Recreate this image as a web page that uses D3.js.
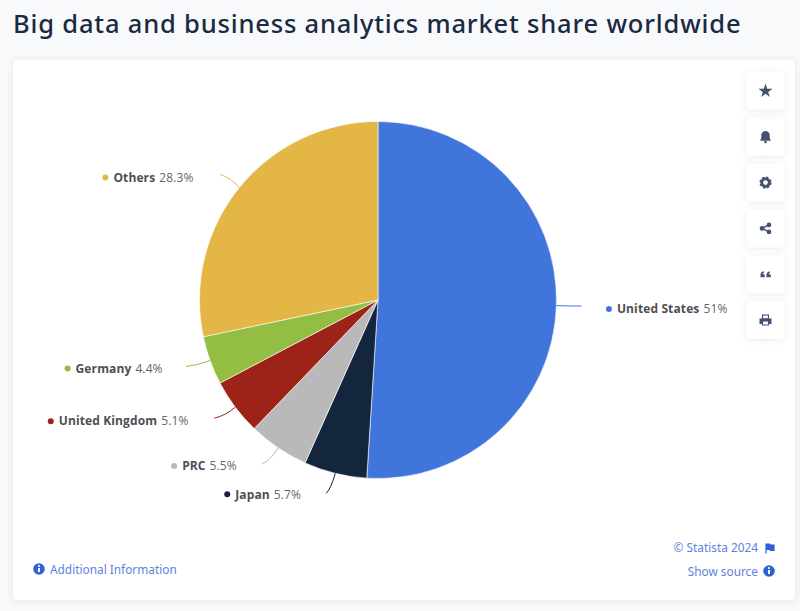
<!DOCTYPE html>
<html>

<head>
	<meta charset="utf-8">
	<script src="https://d3js.org/d3.v7.min.js"></script>
	<title>Big data and business analytics market share worldwide</title>
	<style>
		html,
		body {
			margin: 0;
			width: 100%;
			height: 100%;
			background: #f8f9fb;
			overflow: hidden;
		}

		svg {
			display: block;
		}

		.title {
			font-family: "Noto Sans", sans-serif;
			font-size: 25.5px;
			font-weight: 500;
			letter-spacing: 0.82px;
			fill: #1a2a44;
		}

		.label {
			font-family: "Open Sans", sans-serif;
			font-size: 12px;
			letter-spacing: 0.12px;
			fill: #64666a;
		}

		.label .name {
			font-weight: bold;
			fill: #4d4f53;
		}

		.link {
			font-family: "Noto Sans", sans-serif;
			font-size: 11.85px;
			fill: #5f82dc;
		}
	</style>
</head>

<body>
	<svg id="chart" width="800" height="611"></svg>

	<script>
		// values, clockwise from 12 o'clock
		const categories = ["United States", "Japan", "PRC", "United Kingdom", "Germany", "Others"];
		const shares = [51, 5.7, 5.5, 5.1, 4.4, 28.3];
		const shareLabels = ["51%", "5.7%", "5.5%", "5.1%", "4.4%", "28.3%"];
		const colours = ["#4075db", "#14263d", "#b9b9b9", "#9d2218", "#93be43", "#e3b646"];

		// connector end relative to the slice edge, then label dot relative to that end
		const connectorEnd = [[25, 0.5], [-9, 20], [-16, 16], [-21, 11], [-24, 6], [-19, -13]];
		const dotOffset = [[27.5, 3], [-99, 1], [-88, 2], [-163.5, 3], [-118.5, 2], [-115, 3]];

		const iconNames = ["star", "bell", "gear", "share", "quote", "print"];

		const svg = d3.select("#chart");

		const defs = svg.append("defs");
		const shadow = defs.append("filter").attr("id", "shadow")
			.attr("x", "-20%").attr("y", "-20%").attr("width", "140%").attr("height", "140%");
		shadow.append("feDropShadow").attr("dx", 0).attr("dy", 1).attr("stdDeviation", 3)
			.attr("flood-color", "#8a93a5").attr("flood-opacity", 0.2);

		svg.append("text").attr("class", "title").attr("x", 13).attr("y", 33)
			.text("Big data and business analytics market share worldwide");

		// white card
		svg.append("rect").attr("x", 13).attr("y", 60).attr("width", 782).attr("height", 540).attr("rx", 4)
			.attr("fill", "#fff").attr("filter", "url(#shadow)");

		// pie
		const centre = [378, 300];
		const radius = 178.5;
		const pie = d3.pie().sort(null)(shares);
		const arc = d3.arc().innerRadius(0).outerRadius(radius);
		const edgeArc = d3.arc().innerRadius(radius).outerRadius(radius);

		const g = svg.append("g").attr("transform", `translate(${centre[0]},${centre[1]})`);

		g.selectAll("path.slice")
			.data(pie)
			.enter()
			.append("path")
			.attr("class", "slice")
			.attr("d", arc)
			.attr("fill", (d, i) => colours[i])
			.attr("stroke", "#fff")
			.attr("stroke-width", 0.6);

		// curved connectors from slice edge out to the label
		g.selectAll("path.connector")
			.data(pie)
			.enter()
			.append("path")
			.attr("class", "connector")
			.attr("fill", "none")
			.attr("stroke", (d, i) => colours[i])
			.attr("stroke-width", 1)
			.attr("d", function (d, i) {
				const a = edgeArc.centroid(d);
				const e = connectorEnd[i];
				const p = d3.path();
				p.moveTo(a[0], a[1]);
				// control point keeps the line radial at the slice, then bends to the end
				p.quadraticCurveTo(a[0] + e[0] * 0.45, a[1] + e[1] * 0.75, a[0] + e[0], a[1] + e[1]);
				return p.toString();
			});

		const labels = g.selectAll("g.label")
			.data(pie)
			.enter()
			.append("g")
			.attr("class", "label")
			.attr("transform", function (d, i) {
				const a = edgeArc.centroid(d);
				return `translate(${a[0] + connectorEnd[i][0] + dotOffset[i][0]},${a[1] + connectorEnd[i][1] + dotOffset[i][1]})`;
			});

		labels.append("circle").attr("r", 3).attr("fill", (d, i) => colours[i]);

		const labelText = labels.append("text").attr("x", 8).attr("y", 4.2);
		labelText.append("tspan").attr("class", "name").text((d, i) => categories[i]);
		labelText.append("tspan").attr("dx", 4).text((d, i) => shareLabels[i]);

		// info glyph used by the footer links
		function infoIcon(x, y) {
			const ic = svg.append("g").attr("transform", `translate(${x},${y})`);
			ic.append("circle").attr("r", 5.8).attr("fill", "#2f62d6");
			ic.append("rect").attr("x", -1).attr("y", -1).attr("width", 2).attr("height", 4).attr("fill", "#fff");
			ic.append("circle").attr("cy", -3).attr("r", 1.1).attr("fill", "#fff");
		}

		infoIcon(39, 569);
		svg.append("text").attr("class", "link").attr("x", 50).attr("y", 573.5).text("Additional Information");

		svg.append("text").attr("class", "link").attr("x", 758).attr("y", 551.5).attr("text-anchor", "end").text("© Statista 2024");
		svg.append("path").attr("d", "M766 543.5v10M766 544h3.5l1 1h3.5v5.5h-3.5l-1-1H766")
			.attr("fill", "#2f62d6").attr("stroke", "#2f62d6").attr("stroke-width", 1.2);
		svg.append("text").attr("class", "link").attr("x", 758).attr("y", 575.5).attr("text-anchor", "end").text("Show source");
		infoIcon(769, 571);

		// toolbar buttons down the right side
		const iconColour = "#43536f";
		const iconDraw = {
			star: s => s.append("path")
				.attr("d", d3.symbol().type(d3.symbolStar).size(62)())
				.attr("fill", iconColour),
			bell: s => {
				s.append("path").attr("d", "M-5.5 4C-4 2.2-4.2 0-4.2-1.5A4.2 4.2 0 0 1 4.2-1.5C4.2 0 4 2.2 5.5 4Z").attr("fill", iconColour);
				s.append("circle").attr("cy", 5.2).attr("r", 1.3).attr("fill", iconColour);
			},
			gear: s => {
				s.append("circle").attr("r", 3.8).attr("fill", "none").attr("stroke", iconColour).attr("stroke-width", 2.8);
				s.append("circle").attr("r", 4.9).attr("fill", "none").attr("stroke", iconColour).attr("stroke-width", 2.4).attr("stroke-dasharray", "2.2 1.65");
			},
			share: s => {
				s.append("path").attr("d", "M3.5-3.5L-3.5 0L3.5 3.5").attr("fill", "none").attr("stroke", iconColour).attr("stroke-width", 1.5);
				[[3.5, -3.5], [-3.5, 0], [3.5, 3.5]].forEach(c => s.append("circle").attr("cx", c[0]).attr("cy", c[1]).attr("r", 2.3).attr("fill", iconColour));
			},
			quote: s => {
				s.append("path").attr("d", "M-5 3V0.5Q-5-2.5-1.5-3V-1.5Q-2.8-1.2-2.8 0H-0.8V3ZM1 3V0.5Q1-2.5 4.5-3V-1.5Q3.2-1.2 3.2 0H5.2V3Z").attr("fill", iconColour);
			},
			print: s => {
				s.append("path").attr("d", "M-3.5-1.5V-5.5H3.5V-1.5H6V4H3.5V5.5H-3.5V4H-6V-1.5Z").attr("fill", iconColour);
				s.append("rect").attr("x", -2.4).attr("y", -4.4).attr("width", 4.8).attr("height", 2.6).attr("fill", "#fff");
				s.append("rect").attr("x", -2.4).attr("y", 1.5).attr("width", 4.8).attr("height", 3).attr("fill", "#fff");
			}
		};

		const toolbar = svg.selectAll("g.tool")
			.data(iconNames)
			.enter()
			.append("g")
			.attr("class", "tool")
			.attr("transform", (d, i) => `translate(765.5,${91 + i * 45.8})`);

		toolbar.append("rect")
			.attr("x", -19).attr("y", -19).attr("width", 38).attr("height", 38).attr("rx", 4)
			.attr("fill", "#fff").attr("filter", "url(#shadow)");

		toolbar.each(function (d) {
			iconDraw[d](d3.select(this));
		});
	</script>

</body>

</html>
